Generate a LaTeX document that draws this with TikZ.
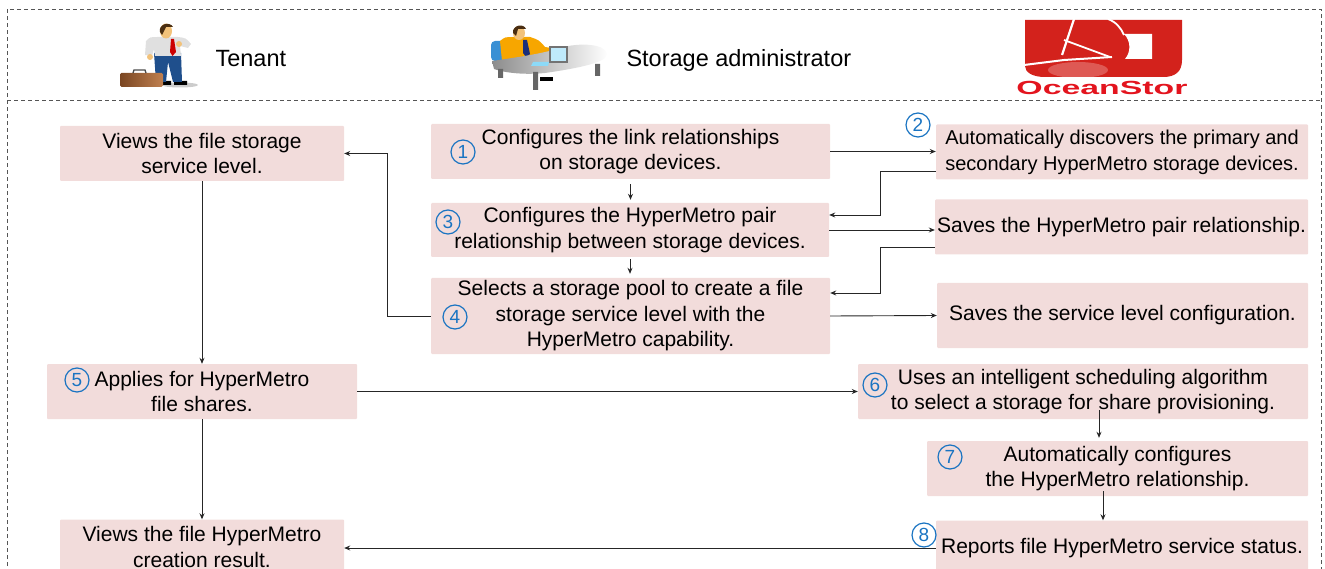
\documentclass[tikz,border=0pt]{standalone}
\usepackage{fontspec}
\setmainfont{Liberation Sans}
\usetikzlibrary{arrows.meta,calc}

\definecolor{boxpink}{HTML}{F2DCDB}
\definecolor{numblue}{HTML}{1A74C2}
\definecolor{framegray}{HTML}{555555}
\definecolor{logored}{HTML}{D3221C}
\definecolor{logoorange}{HTML}{E8643C}
\definecolor{brandred}{HTML}{E3141E}
\definecolor{pantblue}{HTML}{1F4F8C}
\definecolor{tieblue}{HTML}{1A2F7A}
\definecolor{skin}{HTML}{F2C27A}
\definecolor{hair}{HTML}{4A2E12}
\definecolor{caseb}{HTML}{7A4622}
\definecolor{casel}{HTML}{C08050}
\definecolor{chairblue}{HTML}{3A90D4}
\definecolor{shirtorange}{HTML}{F7A600}

\tikzset{
  stepbox/.style={fill=boxpink, rounded corners=1pt, inner sep=0pt, align=center, font=\fontsize{21}{25.5}\selectfont},
  num/.style={circle, draw=numblue, text=numblue, line width=1.2pt, inner sep=0pt, minimum size=24pt, font=\fontsize{19}{19}\selectfont},
  arr/.style={draw=black!85, line width=0.9pt, -{Stealth[length=6pt,width=5pt]}},
  cutline/.style={draw=framegray, line width=0.9pt, dash pattern=on 4pt off 3pt},
  role/.style={anchor=base west, font=\fontsize{23.5}{26}\selectfont},
}

\begin{document}
\begin{tikzpicture}[x=1pt, y=-1pt]
\useasboundingbox (0,0) rectangle (1325,569);
\clip (0,0) rectangle (1325,569);

% frame and header rule
\draw[cutline] (7,580) -- (7,9) -- (1321,9) -- (1321,580);
\draw[cutline] (7,100) -- (1321,100);

% tenant figure
\fill[black!20] (180,85) ellipse (18 and 2.5);
\fill[black] (160,81) rectangle (171,85) (174,81) rectangle (187,85);
\fill[pantblue] (154,53) -- (181,53) -- (182,82) -- (173,82) -- (168,62) -- (166,82) -- (156,82) -- cycle;
\fill[black!12] (146,41) .. controls (150,37) .. (158,37) -- (178,37) .. controls (186,38) .. (191,44) -- (188,48) -- (180,46) -- (181,56) -- (155,56) -- (154,49) -- (152,56) -- (145,55) -- cycle;
\fill[skin] (150,57) circle (3) (179,44) circle (3);
\fill[red!80!black] (171,39) -- (174,39) -- (176,52) -- (172.5,56) -- (170,52) -- cycle;
\fill[skin] (166,31) ellipse (6 and 7.5);
\fill[hair] (160,32) .. controls (158,24) and (170,21) .. (173,27) -- (166,27) -- (162,35) -- cycle;
\shade[left color=caseb, right color=casel, rounded corners=1.5pt] (120,73) rectangle (163,87);
\draw[black!70, line width=1.3pt] (133,73) -- (134,70) -- (145,70) -- (146,73);
\node[role] (tenant) at (212,67) {Tenant};

% administrator figure
\fill[chairblue, rounded corners=4pt] (491,41) rectangle (506,61);
\fill[shirtorange] (500,41) .. controls (505,37) .. (514,37) -- (530,37) .. controls (539,40) .. (545,47) -- (558,49) -- (557,53) -- (540,54) -- (536,61) -- (502,61) -- cycle;
\fill[tieblue] (523,40) -- (527,40) -- (530,54) -- (526,57) -- (523,53) -- cycle;
\fill[skin] (519,33) ellipse (6 and 7);
\fill[hair] (513,33) .. controls (512,25) and (524,23) .. (526,29) -- (518,29) -- (516,36) -- cycle;
\shade[left color=black!45, right color=white] (492,61) .. controls (520,57) and (545,53) .. (560,48) .. controls (580,42) and (606,44) .. (607,54) .. controls (608,62) and (580,68) .. (545,73) .. controls (525,75) and (505,73) .. (494,69) -- cycle;
\fill[black!60] (533,72) rectangle (538,90) (595,64) rectangle (600,76) (498,69) rectangle (503,78);
\fill[black] (540,77) rectangle (553,81);
\fill[black!55] (549,46) rectangle (568,63);
\fill[cyan!25] (551,48) rectangle (566,61);
\fill[cyan!45] (533,62) -- (549,62) -- (548,66) -- (531,66) -- cycle;
\node[role] (admin) at (623,67) {Storage administrator};

% storage logo
\shade[left color=logored, middle color=logoorange, right color=logored] (1025,20) -- (1182,20) -- (1182,60) .. controls (1182,72) and (1175,77) .. (1163,77) -- (1045,77) .. controls (1032,77) and (1025,72) .. (1025,66) -- cycle;
\fill[white] (1124,34) -- (1152,34) -- (1152,59) -- (1125,59) .. controls (1131,52) and (1131,41) .. (1124,34) -- cycle;
\draw[white, line width=1.8pt] (1108,19) .. controls (1116,22) and (1121,28) .. (1124,35);
\draw[white, line width=2.2pt] (1074,19) -- (1062,55);
\draw[white, line width=2pt] (1024,65) -- (1064,60) -- (1112,57);
\draw[white, line width=1.8pt] (1064,40) -- (1110,57);
\fill[white, opacity=0.25] (1078,70) ellipse (30 and 8);
\node[text=brandred] (brand) at (1102,88) {\scalebox{1.78}[1]{\fontsize{19}{19}\selectfont\bfseries OceanStor}};

% steps
\node[stepbox, minimum width=284pt, minimum height=55pt] (sl) at (202,153.5) {Views the file storage\\service level.};
\node[stepbox, minimum width=399pt, minimum height=55pt] (c1) at (630.5,151.5) {Configures the link relationships\\on storage devices.};
\node[stepbox, minimum width=372pt, minimum height=55pt, font=\fontsize{20}{26}\selectfont] (c2) at (1122,152) {Automatically discovers the primary and\\secondary HyperMetro storage devices.};
\node[stepbox, minimum width=398pt, minimum height=54pt] (c3) at (630,230) {Configures the HyperMetro pair\\relationship between storage devices.};
\node[stepbox, minimum width=373pt, minimum height=55pt] (pair) at (1121.5,227) {Saves the HyperMetro pair relationship.};
\node[stepbox, minimum width=399pt, minimum height=76pt] (c4) at (630.5,316) {Selects a storage pool to create a file\\storage service level with the\\HyperMetro capability.};
\node[stepbox, minimum width=371pt, minimum height=65pt] (cfg) at (1122.5,315.5) {Saves the service level configuration.};
\node[stepbox, minimum width=310pt, minimum height=55pt] (c5) at (202,391.5) {Applies for HyperMetro\\file shares.};
\node[stepbox, minimum width=450pt, minimum height=55pt] (c6) at (1083,391.5) {Uses an intelligent scheduling algorithm\\to select a storage for share provisioning.};
\node[stepbox, minimum width=381pt, minimum height=55pt] (c7) at (1117.5,468.5) {Automatically configures\\the HyperMetro relationship.};
\node[stepbox, minimum width=372pt, minimum height=55pt] (c8) at (1122,548) {Reports file HyperMetro service status.};
\node[stepbox, minimum width=284pt, minimum height=55pt] (res) at (202,547) {Views the file HyperMetro\\creation result.};

% step numbers
\node[num] (n1) at (463,152) {1};
\node[num] (n2) at (918,125) {2};
\node[num] (n3) at (448,222) {3};
\node[num] (n4) at (455,317) {4};
\node[num] (n5) at (77,380) {5};
\node[num] (n6) at (875,385) {6};
\node[num] (n7) at (950,457) {7};
\node[num] (n8) at (924,535) {8};

% flow
\draw[arr] (c4.west) -- ++(-43,0) |- (sl.east);
\draw[arr] (sl.south) -- (c5.north);
\draw[arr] (c5.south) -- (res.north);
\draw[arr, shorten <=5pt, shorten >=3pt] (c1.south) -- (c1.south |- c3.north);
\draw[arr, shorten <=2pt, shorten >=4pt] (c3.south) -- (c3.south |- c4.north);
\draw[arr] (c1.east) -- (c1.east -| c2.west);
\draw[arr] ($(c2.west)+(0,19.5)$) -- ++(-55,0) |- ($(c3.east)+(0,-15)$);
\draw[arr] (c3.east) -- (c3.east -| pair.west);
\draw[arr] ($(pair.west)+(0,20)$) -- ++(-54,0) |- ($(c4.east)+(0,-23)$);
\draw[arr] (c4.east) -- (cfg.west);
\draw[arr] (c5.east) -- (c6.west);
\coordinate (t6) at ($(c6.south)+(16,-9)$);
\draw[arr, shorten >=3pt] (t6) -- (t6 |- c7.north);
\coordinate (t7) at ($(c7.south)+(-14.5,-5)$);
\draw[arr] (t7) -- (t7 |- c8.north);
\draw[arr] (c8.west) -- (c8.west -| res.east);
\end{tikzpicture}
\end{document}
